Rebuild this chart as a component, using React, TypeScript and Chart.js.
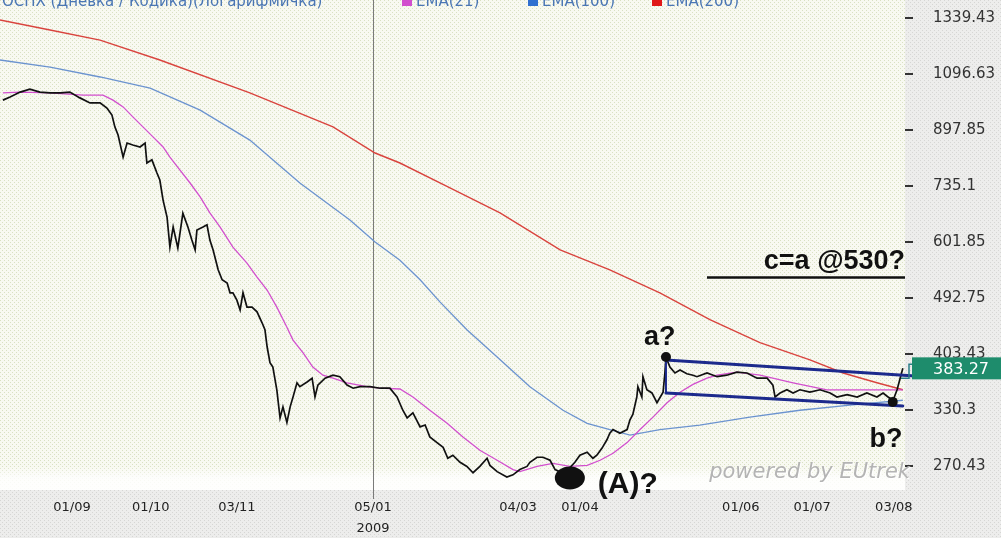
import React, { useEffect, useRef } from "react";
import { Chart, registerables } from "chart.js";

Chart.register(...registerables);

// ---------- data (x = trading-day index, y = index value) ----------
const priceDays = [0.8,2.8,5.6,8.3,11.1,13.9,16.7,19.4,22.2,25,27.8,29.7,31.1,31.9,32.8,34.2,35.3,36.9,38.9,40.3,40.8,42.2,43.6,44.4,45.3,46.4,47.2,48.1,49.4,50.8,52.2,53.3,54.2,54.7,56.4,57.5,58.3,59.2,60.6,61.7,63.1,63.9,64.7,65.8,66.7,67.5,68.6,70,71.4,72.8,73.6,74.2,75,75.8,76.9,77.8,78.6,79.7,80.6,81.4,82.5,83.3,85.3,86.7,87.5,88.3,90.3,92.5,94.4,96.4,98.1,100,102.8,105.6,108.3,110.3,111.9,113.1,114.7,116.7,118.1,119.4,121.4,123.1,124.4,125.8,127.8,129.7,131.4,133.3,135.3,136.1,138.1,140.8,142.5,144.4,146.4,147.2,149.2,150.8,152.8,154.2,156.1,157.8,159.7,161.1,163.1,164.7,165.8,167.2,168.6,169.4,170.3,172.2,174.2,175,175.8,176.9,177.2,178.3,178.6,179.7,181.1,182.5,183.3,184.2,184.7,185,186.1,187.5,188.9,190.8,192.5,193.6,196.4,199.2,201.9,204.7,207.5,210.3,213.1,214.7,215.3,216.7,218.6,220.3,222.2,225,227.8,230.6,232.5,235.3,238.1,240.8,243.6,245.3,246.7,248.1,249.2,250.8];
const priceValues = [999,1010,1028,1039,1028,1025,1025,1028,1007,989,989,971,947,908,882,815,857,851,845,857,798,807,770,751,699,658,591,635,589,667,635,606,585,628,635,640,606,585,545,526,520,502,502,489,472,502,477,477,469,451,440,414,391,385,355,321,334,316,334,346,364,359,365,370,346,361,370,374,372,361,357,359,359,357,357,346,330,321,327,311,313,300,294,289,278,281,274,270,264,270,278,271,265,260,262,267,270,274,279,279,276,267,264,267,274,281,284,278,281,288,297,304,308,304,308,319,325,346,359,346,372,355,351,339,345,352,377,399,385,377,381,376,374,372,377,372,374,378,377,370,370,361,346,351,355,351,355,352,355,351,346,349,346,351,346,351,346,342,355,383.27];

const ema21Days = [0.8,5.6,13.9,23.1,28.6,31.4,34.2,36.9,39.7,42.5,45.3,47.2,50,52.8,55.6,58.3,61.1,64.7,68.6,71.4,74.2,76.9,79.7,81.4,84.2,86.9,89.7,92.5,96.4,101.9,105.6,111.1,114.7,119.4,124.2,128.6,133.3,138.1,142.5,144.4,149.2,153.6,158.3,163.1,166.7,170.3,174.2,177.8,181.4,185.3,188.9,192.5,196.4,199.2,204.7,211.1,220.3,229.7,238.9,248.1,250.8];
const ema21Values = [1025,1028,1025,1017,1017,999,975,941,908,876,845,815,778,743,707,668,635,591,558,531,507,477,444,424,405,385,374,370,364,359,357,356,346,330,315,300,286,276,267,265,270,273,270,271,276,283,294,308,322,339,352,362,370,374,378,374,364,355,355,355,355];

const ema100Days = [0,13.9,27.8,41.7,55.6,69.4,83.3,97.2,104.2,111.1,116.7,122.2,129.7,138.1,147.2,156.4,163.1,169.4,175,183.3,194.4,208.3,222.2,236.1,250.8];
const ema100Values = [1153,1124,1085,1043,964,866,743,651,602,564,526,486,440,399,359,330,315,308,302,308,313,322,330,336,342];

const ema200Days = [0,13.9,27.8,44.4,69.4,92.5,104.2,111.1,125,138.9,155.6,169.4,183.3,197.2,211.1,225,234.2,243.6,250.8];
const ema200Values = [1330,1283,1238,1153,1025,908,827,798,730,668,585,545,502,456,420,395,377,364,355];

const xTickValues = [20, 41.9, 65.8, 103.6, 143.9, 161.1, 205.8, 225.6, 248.3];
const xTickLabels = ["01/09", "01/10", "03/11", "05/01", "04/03", "01/04", "01/06", "01/07", "03/08"];
const yearMarkDay = 103.6;
const yearLabel = "2009";

const yTickValues = [1339.43, 1096.63, 897.85, 735.1, 601.85, 492.75, 403.43, 330.3, 270.43];
const yTickLabels = ["1339.43", "1096.63", "897.85", "735.1", "601.85", "492.75", "403.43", "330.3", "270.43"];

const lastPrice = 383.27;
const legendTitle = "ОСПХ (Дневка / Кодика)(Логарифмичка)";
const seriesNames = ["EMA(21)", "EMA(100)", "EMA(200)"];

// annotation anchors (day, value)
const pointA = [185, 399];
const pointB = [248, 340];
const trendUpper = [[185, 394.9], [254.2, 372.9]];
const trendLower = [[185, 351.0], [250.8, 335.0]];
const targetValue = 530;
const targetSpan = [196.4, 251.4];
const targetText = "c=a @530?";
const labelA = { day: 183.3, value: 416.6, text: "a?" };
const labelB = { day: 246.1, value: 289.4, text: "b?" };
const waveLow = { day: 158.3, value: 259.1 };
const waveLabel = { day: 174.4, value: 245.6, text: "(A)?" };
const watermark = "powered by EUtrek";

const X_MIN = 0;
const X_MAX = 251.4;
const Y_MIN = 248.2;
const Y_MAX = 1428.4;

const FONT = '"DejaVu Sans", Verdana, sans-serif';
const BOLD = '"Liberation Sans", Arial, sans-serif';

const COLORS = {
  price: "#111111",
  ema21: "#d24fce",
  ema100: "#6b93cf",
  ema200: "#d9443e",
  trend: "#1c2a8c",
};

function pts(xs: number[], ys: number[]) {
  return xs.map((x, i) => ({ x, y: ys[i] }));
}

function makePattern(base: string, dot: string) {
  const c = document.createElement("canvas");
  c.width = 4;
  c.height = 4;
  const g = c.getContext("2d")!;
  g.fillStyle = base;
  g.fillRect(0, 0, 4, 4);
  g.fillStyle = dot;
  g.fillRect(0, 0, 1, 1);
  g.fillRect(2, 2, 1, 1);
  return c;
}

const decor = {
  id: "decor",
  beforeDraw(chart: any) {
    const { ctx, chartArea: ca, width, height } = chart;
    ctx.save();
    const outer = ctx.createPattern(makePattern("#ededec", "#d6d6d4"), "repeat");
    ctx.fillStyle = outer;
    ctx.fillRect(0, 0, width, height);
    const inner = ctx.createPattern(makePattern("#f8f9f1", "#d9e0c3"), "repeat");
    ctx.fillStyle = inner;
    ctx.fillRect(ca.left, ca.top, ca.right - ca.left, ca.bottom - ca.top);
    const g = ctx.createLinearGradient(0, ca.bottom - 24, 0, ca.bottom);
    g.addColorStop(0, "rgba(255,255,255,0)");
    g.addColorStop(0.5, "rgba(255,255,255,0.8)");
    g.addColorStop(1, "rgba(255,255,255,0.9)");
    ctx.fillStyle = g;
    ctx.fillRect(ca.left, ca.bottom - 24, ca.right - ca.left, 24);
    ctx.restore();
  },
  beforeDatasetsDraw(chart: any) {
    const { ctx, chartArea: ca, scales } = chart;
    const x = Math.round(scales.x.getPixelForValue(yearMarkDay)) + 0.5;
    ctx.save();
    ctx.strokeStyle = "#7a7a7a";
    ctx.lineWidth = 1;
    ctx.beginPath();
    ctx.moveTo(x, 0);
    ctx.lineTo(x, ca.bottom + 9);
    ctx.stroke();
    ctx.restore();
  },
  afterDatasetsDraw(chart: any) {
    const { ctx, scales } = chart;
    const px = (d: number) => scales.x.getPixelForValue(d);
    const py = (v: number) => scales.y.getPixelForValue(v);
    ctx.save();
    ctx.strokeStyle = COLORS.trend;
    ctx.lineWidth = 3;
    ctx.lineCap = "round";
    for (const seg of [trendUpper, trendLower]) {
      ctx.beginPath();
      ctx.moveTo(px(seg[0][0]), py(seg[0][1]));
      ctx.lineTo(px(seg[1][0]), py(seg[1][1]));
      ctx.stroke();
    }
    ctx.lineWidth = 2;
    ctx.beginPath();
    ctx.moveTo(px(pointA[0]), py(pointA[1]));
    ctx.lineTo(px(trendLower[0][0]), py(trendLower[0][1]));
    ctx.stroke();
    ctx.fillStyle = "#111";
    for (const p of [pointA, pointB]) {
      ctx.beginPath();
      ctx.arc(px(p[0]), py(p[1]), 5, 0, Math.PI * 2);
      ctx.fill();
    }
    ctx.beginPath();
    ctx.ellipse(px(waveLow.day), py(waveLow.value), 15, 11.5, 0, 0, Math.PI * 2);
    ctx.fill();
    ctx.strokeStyle = "#111";
    ctx.lineWidth = 2.5;
    ctx.lineCap = "butt";
    const ty = py(targetValue);
    ctx.beginPath();
    ctx.moveTo(px(targetSpan[0]), ty);
    ctx.lineTo(px(targetSpan[1]), ty);
    ctx.stroke();
    ctx.fillStyle = "#111";
    ctx.textBaseline = "alphabetic";
    ctx.font = `bold 27px ${BOLD}`;
    ctx.textAlign = "right";
    ctx.fillText(targetText, px(targetSpan[1]), ty - 9);
    ctx.textAlign = "center";
    ctx.fillText(labelA.text, px(labelA.day), py(labelA.value));
    ctx.fillText(labelB.text, px(labelB.day), py(labelB.value));
    ctx.font = `bold 30px ${BOLD}`;
    ctx.fillText(waveLabel.text, px(waveLabel.day), py(waveLabel.value));
    ctx.restore();
  },
  afterDraw(chart: any) {
    const { ctx, chartArea: ca, scales, width } = chart;
    ctx.save();
    ctx.font = `italic 21px ${FONT}`;
    ctx.textAlign = "right";
    ctx.textBaseline = "alphabetic";
    ctx.fillStyle = "rgba(255,255,255,0.9)";
    ctx.fillText(watermark, ca.right + 6, ca.bottom - 11);
    ctx.fillStyle = "#b4b4b4";
    ctx.fillText(watermark, ca.right + 5, ca.bottom - 12);

    ctx.textAlign = "left";
    ctx.font = `15px ${FONT}`;
    ctx.fillStyle = "#4a76b4";
    ctx.fillText(legendTitle, 2, 6);
    const legendItems = [
      { x: 402, color: COLORS.ema21, name: seriesNames[0] },
      { x: 528, color: "#2f6fd0", name: seriesNames[1] },
      { x: 652, color: "#e01818", name: seriesNames[2] },
    ];
    for (const it of legendItems) {
      ctx.fillStyle = it.color;
      ctx.fillRect(it.x, -4, 10, 10);
      ctx.fillStyle = "#4a76b4";
      ctx.fillText(it.name, it.x + 14, 6);
    }

    const cy = scales.y.getPixelForValue(lastPrice);
    const bx = ca.right + 7;
    ctx.fillStyle = "#1e8c6c";
    ctx.fillRect(bx, cy - 11, width - bx, 22);
    ctx.strokeStyle = "#2a7f86";
    ctx.lineWidth = 1.5;
    ctx.beginPath();
    ctx.moveTo(ca.right - 4, cy + 10);
    ctx.lineTo(ca.right + 4, cy + 10);
    ctx.lineTo(ca.right + 4, cy - 4);
    ctx.lineTo(bx, cy - 4);
    ctx.stroke();
    ctx.fillStyle = "#ffffff";
    ctx.font = `16px ${FONT}`;
    ctx.textBaseline = "middle";
    ctx.fillText(lastPrice.toFixed(2), ca.right + 28, cy + 1);
    ctx.restore();
  },
};

export default function App() {
  const ref = useRef<HTMLCanvasElement>(null);
  useEffect(() => {
    const canvas = ref.current!;
    const line = (data: any, color: string, w: number) => ({
      data,
      borderColor: color,
      borderWidth: w,
      pointRadius: 0,
      tension: 0,
      fill: false,
    });
    const chart = new Chart(canvas, {
      type: "line",
      data: {
        datasets: [
          { label: "price", ...line(pts(priceDays, priceValues), COLORS.price, 1.7) },
          { label: seriesNames[0], ...line(pts(ema21Days, ema21Values), COLORS.ema21, 1.3) },
          { label: seriesNames[1], ...line(pts(ema100Days, ema100Values), COLORS.ema100, 1.3) },
          { label: seriesNames[2], ...line(pts(ema200Days, ema200Values), COLORS.ema200, 1.4) },
        ],
      },
      options: {
        animation: false,
        responsive: false,
        devicePixelRatio: 1,
        layout: { padding: 0 },
        plugins: { legend: { display: false }, tooltip: { enabled: false } },
        scales: {
          x: {
            type: "linear",
            min: X_MIN,
            max: X_MAX,
            grid: { display: false, drawTicks: false },
            border: { display: false },
            afterBuildTicks: (s: any) => {
              s.ticks = xTickValues.map((v) => ({ value: v }));
            },
            afterFit: (s: any) => {
              s.height = 48;
              s.paddingLeft = 0;
              s.paddingRight = 0;
            },
            ticks: {
              autoSkip: false,
              maxRotation: 0,
              minRotation: 0,
              padding: 7,
              color: "#222",
              font: { family: FONT, size: 13, lineHeight: 1.6 },
              callback: (v: any) => {
                const i = xTickValues.findIndex((t) => Math.abs(t - Number(v)) < 1e-6);
                if (i < 0) return "";
                if (Math.abs(xTickValues[i] - yearMarkDay) < 1e-6) return [xTickLabels[i], yearLabel];
                return xTickLabels[i];
              },
            },
          },
          y: {
            type: "logarithmic",
            position: "right",
            min: Y_MIN,
            max: Y_MAX,
            grid: { display: true, drawOnChartArea: false, drawTicks: true, tickLength: 8, color: "#333", lineWidth: 2 },
            border: { display: false },
            afterBuildTicks: (s: any) => {
              s.ticks = yTickValues.map((v) => ({ value: v }));
            },
            afterFit: (s: any) => {
              s.width = 96;
              s.paddingTop = 0;
              s.paddingBottom = 0;
            },
            ticks: {
              padding: 20,
              color: "#333",
              font: { family: FONT, size: 15 },
              callback: (v: any) => {
                let best = 0;
                yTickValues.forEach((t, i) => {
                  if (Math.abs(t - Number(v)) < Math.abs(yTickValues[best] - Number(v))) best = i;
                });
                return yTickLabels[best];
              },
            },
          },
        },
      } as any,
      plugins: [decor],
    });
    return () => chart.destroy();
  }, []);
  return (
    <div style={{ position: "fixed", left: 0, top: 0, width: 1001, height: 538 }}>
      <canvas ref={ref} width={1001} height={538} style={{ display: "block" }} />
    </div>
  );
}
